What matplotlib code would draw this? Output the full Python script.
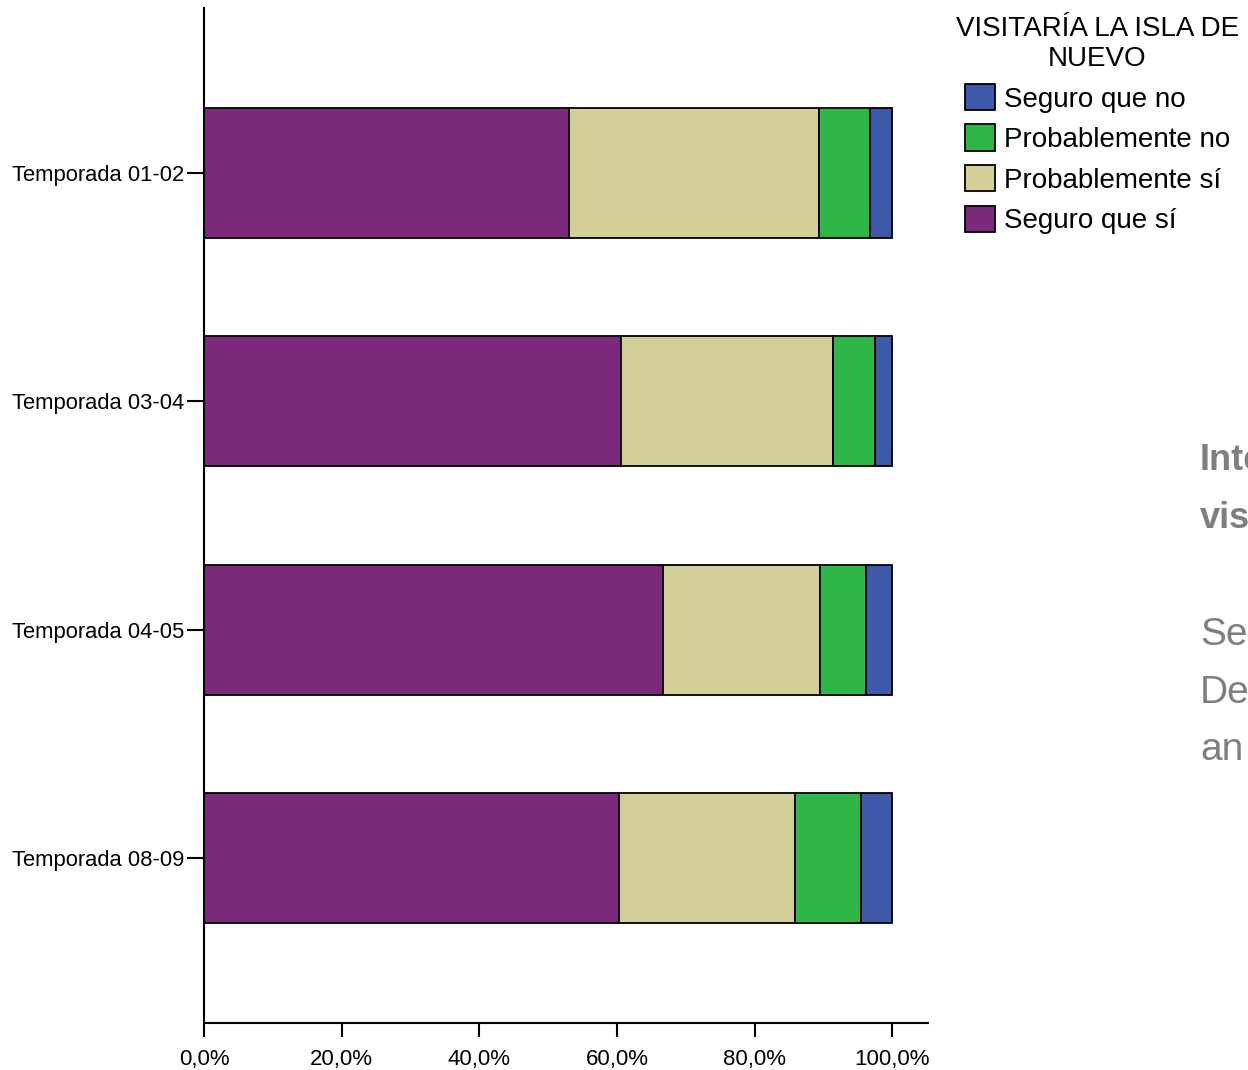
import numpy as np
import matplotlib
matplotlib.use("Agg")
import matplotlib.pyplot as plt
from matplotlib.patches import Patch

plt.rcParams['font.family'] = ['Liberation Sans', 'DejaVu Sans']

# data (percent of respondents per season)
temporadas = ["Temporada 01-02", "Temporada 03-04", "Temporada 04-05", "Temporada 08-09"]
seguro_si = [53.0, 60.6, 66.7, 60.3]
probable_si = [36.4, 30.8, 22.8, 25.6]
probable_no = [7.4, 6.0, 6.7, 9.6]
seguro_no = [3.2, 2.6, 3.8, 4.5]
x_ticks = [0, 20, 40, 60, 80, 100]
x_labels = ["0,0%", "20,0%", "40,0%", "60,0%", "80,0%", "100,0%"]

series = [
    ("Seguro que sí", seguro_si, "#7B297A"),
    ("Probablemente sí", probable_si, "#D3CE97"),
    ("Probablemente no", probable_no, "#2EB748"),
    ("Seguro que no", seguro_no, "#3E58AA"),
]

W, H = 1248, 1070
fig = plt.figure(figsize=(W / 100, H / 100), dpi=100)
ax = fig.add_axes([204 / W, 1 - 1023 / H, (928 - 204) / W, (1023 - 8) / H])

ypos = np.arange(len(temporadas))
left = np.zeros(len(temporadas))
for name, vals, col in series:
    ax.barh(ypos, vals, left=left, height=0.57, color=col,
            edgecolor="black", linewidth=1.3, label=name)
    left = left + np.array(vals)

ax.set_xlim(0, 105.16)
ax.set_ylim(3.724, -0.724)
ax.set_yticks(ypos)
ax.set_yticklabels(temporadas, fontsize=15.8)
ax.set_xticks(x_ticks)
ax.set_xticklabels(x_labels, fontsize=16)
for s in ["top", "right"]:
    ax.spines[s].set_visible(False)
for s in ["left", "bottom"]:
    ax.spines[s].set_linewidth(1.5)
ax.tick_params(axis="y", length=12, width=1.5, pad=2)
ax.tick_params(axis="x", length=10, width=1.5, pad=9)

handles = [Patch(facecolor=col, edgecolor="black", linewidth=1.3, label=name)
           for name, vals, col in series[::-1]]
leg = fig.legend(handles=handles, loc="upper left",
                 bbox_to_anchor=(956 / W, 1 - 16 / H),
                 title="VISITARÍA LA ISLA DE\nNUEVO", title_fontsize=20,
                 fontsize=20, frameon=False, borderpad=0, borderaxespad=0,
                 handlelength=1.08, handleheight=1.08, handletextpad=0.3,
                 labelspacing=0.43)
leg.get_title().set_multialignment("center")
leg.get_title().set_linespacing(1.2)

# cut-off slide text on the right edge
gray = "#7F7F7F"
fig.text(1200 / W, 1 - 470 / H, "Intención", fontsize=26, fontweight="bold", color=gray)
fig.text(1200 / W, 1 - 528 / H, "visita", fontsize=26, fontweight="bold", color=gray)
fig.text(1200 / W, 1 - 645 / H, "Se", fontsize=28, color=gray)
fig.text(1200 / W, 1 - 703 / H, "De", fontsize=28, color=gray)
fig.text(1200 / W, 1 - 760 / H, "an", fontsize=28, color=gray)

fig.savefig("out.png", dpi=100)
